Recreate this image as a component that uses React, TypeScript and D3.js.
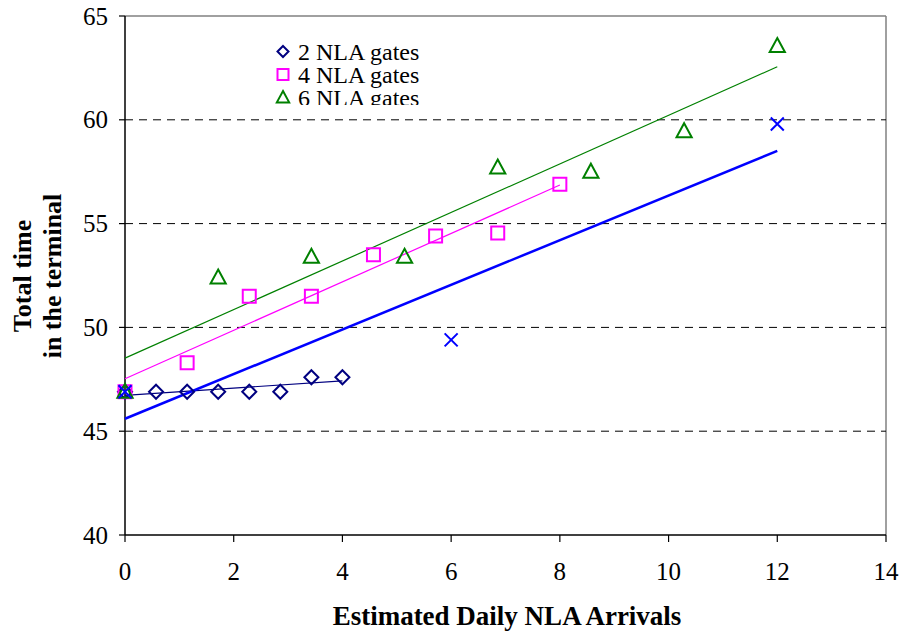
import React from "react";
import * as d3 from "d3";

// Estimated daily NLA arrivals (x) and total time in the terminal (y)
const gates2X = [0, 0.571, 1.143, 1.714, 2.286, 2.857, 3.429, 4.0];
const gates2Y = [46.9, 46.9, 46.9, 46.9, 46.9, 46.9, 47.6, 47.6];

const gates4X = [0, 1.143, 2.286, 3.429, 4.571, 5.714, 6.857, 8.0];
const gates4Y = [46.9, 48.3, 51.5, 51.5, 53.5, 54.4, 54.55, 56.9];

const gates6X = [0, 1.714, 3.429, 5.143, 6.857, 8.571, 10.286, 12.0];
const gates6Y = [46.9, 52.4, 53.4, 53.4, 57.7, 57.5, 59.45, 63.55];

const crossX = [0, 6, 12];
const crossY = [46.9, 49.4, 59.8];

const blueLineX = [0, 12];
const blueLineY = [45.6, 58.5];

const xTicks = [0, 2, 4, 6, 8, 10, 12, 14];
const yTicks = [40, 45, 50, 55, 60, 65];
const gridValues = [45, 50, 55, 60];

const legendLabels = ["2 NLA gates", "4 NLA gates", "6 NLA gates"];

const navy = "#000080";
const magenta = "#ff00ff";
const green = "#008000";
const blue = "#0000ff";

function fit(xs: number[], ys: number[]) {
  const mx = d3.mean(xs)!;
  const my = d3.mean(ys)!;
  const sxy = d3.sum(xs, (x, i) => (x - mx) * (ys[i] - my));
  const sxx = d3.sum(xs, (x) => (x - mx) ** 2);
  const slope = sxy / sxx;
  const b = my - slope * mx;
  const x0 = d3.min(xs)!;
  const x1 = d3.max(xs)!;
  return [
    [x0, b + slope * x0],
    [x1, b + slope * x1],
  ];
}

const diamond = (s: number) => `M0,${-s}L${s},0L0,${s}L${-s},0Z`;
const square = (s: number) => `M${-s},${-s}H${s}V${s}H${-s}Z`;
const triangle = (s: number) =>
  `M0,${-s}L${s * 0.95},${s * 0.75}L${-s * 0.95},${s * 0.75}Z`;
const cross = (s: number) => `M${-s},${-s}L${s},${s}M${s},${-s}L${-s},${s}`;

export default function App() {
  const width = 901;
  const height = 637;
  const left = 125;
  const right = 886;
  const top = 16;
  const bottom = 535;

  const x = d3.scaleLinear().domain([0, 14]).range([left, right]);
  const y = d3.scaleLinear().domain([40, 65]).range([bottom, top]);
  const line = d3
    .line<number[]>()
    .x((d) => x(d[0]))
    .y((d) => y(d[1]));

  const font = "'Liberation Serif', 'Times New Roman', serif";

  const markers = (
    xs: number[],
    ys: number[],
    shape: string,
    color: string,
    key: string
  ) =>
    xs.map((v, i) => (
      <path
        key={key + i}
        d={shape}
        transform={`translate(${x(v)},${y(ys[i])})`}
        fill="none"
        stroke={color}
        strokeWidth={2}
      />
    ));

  const blueLine = blueLineX.map((v, i) => [v, blueLineY[i]]);

  return (
    <svg
      width={width}
      height={height}
      style={{ position: "absolute", left: 0, top: 0, background: "#fff" }}
      fontFamily={font}
    >
      <defs>
        <clipPath id="legendClip">
          <rect x={270} y={34} width={200} height={71} />
        </clipPath>
      </defs>

      {/* frame */}
      <line x1={left} x2={right} y1={top} y2={top} stroke="#808080" strokeWidth={1.5} />
      <line x1={right} x2={right} y1={top} y2={bottom} stroke="#808080" strokeWidth={1.5} />

      {/* gridlines */}
      {gridValues.map((g) => (
        <line
          key={g}
          x1={left}
          x2={right}
          y1={y(g)}
          y2={y(g)}
          stroke="#000"
          strokeWidth={1}
          strokeDasharray="8,6"
        />
      ))}

      {/* axes */}
      <line x1={left} x2={left} y1={top} y2={bottom} stroke="#000" strokeWidth={1.5} />
      <line x1={left} x2={right} y1={bottom} y2={bottom} stroke="#000" strokeWidth={1.5} />
      {yTicks.map((t) => (
        <g key={"y" + t}>
          <line x1={left - 6} x2={left} y1={y(t)} y2={y(t)} stroke="#000" strokeWidth={1.2} />
          <text x={left - 17} y={y(t) + 8.5} textAnchor="end" fontSize={25}>
            {t}
          </text>
        </g>
      ))}
      {xTicks.map((t) => (
        <g key={"x" + t}>
          <line x1={x(t)} x2={x(t)} y1={bottom} y2={bottom + 7} stroke="#000" strokeWidth={1.2} />
          <text x={x(t)} y={580} textAnchor="middle" fontSize={25}>
            {t}
          </text>
        </g>
      ))}

      {/* axis titles */}
      <text x={507} y={625} textAnchor="middle" fontSize={27} fontWeight="bold">
        Estimated Daily NLA Arrivals
      </text>
      <g transform="translate(31,276) rotate(-90)">
        <text x={0} y={0} textAnchor="middle" fontSize={26} fontWeight="bold">
          Total time
        </text>
        <text x={0} y={30} textAnchor="middle" fontSize={26} fontWeight="bold">
          in the terminal
        </text>
      </g>

      {/* trend lines */}
      <path d={line(fit(gates2X, gates2Y))!} stroke={navy} strokeWidth={1.2} fill="none" />
      <path d={line(fit(gates4X, gates4Y))!} stroke={magenta} strokeWidth={1.2} fill="none" />
      <path d={line(fit(gates6X, gates6Y))!} stroke={green} strokeWidth={1.2} fill="none" />
      <path d={line(blueLine)!} stroke={blue} strokeWidth={2.5} fill="none" />

      {/* markers */}
      {markers(gates2X, gates2Y, diamond(7), navy, "d")}
      {markers(gates4X, gates4Y, square(6.5), magenta, "s")}
      {markers(gates6X, gates6Y, triangle(8), green, "t")}
      {markers(crossX, crossY, cross(6.5), blue, "c")}

      {/* legend */}
      <g clipPath="url(#legendClip)">
        <rect x={270} y={34} width={200} height={71} fill="#fff" />
        {legendLabels.map((l, i) => {
          const cy = 51.5 + i * 23;
          const shape = [diamond(5.5), square(5.5), triangle(6.5)][i];
          const color = [navy, magenta, green][i];
          return (
            <g key={l}>
              <path
                d={shape}
                transform={`translate(283,${cy})`}
                fill="none"
                stroke={color}
                strokeWidth={2}
              />
              <text x={298} y={cy + 8} fontSize={24}>
                {l}
              </text>
            </g>
          );
        })}
      </g>
    </svg>
  );
}
